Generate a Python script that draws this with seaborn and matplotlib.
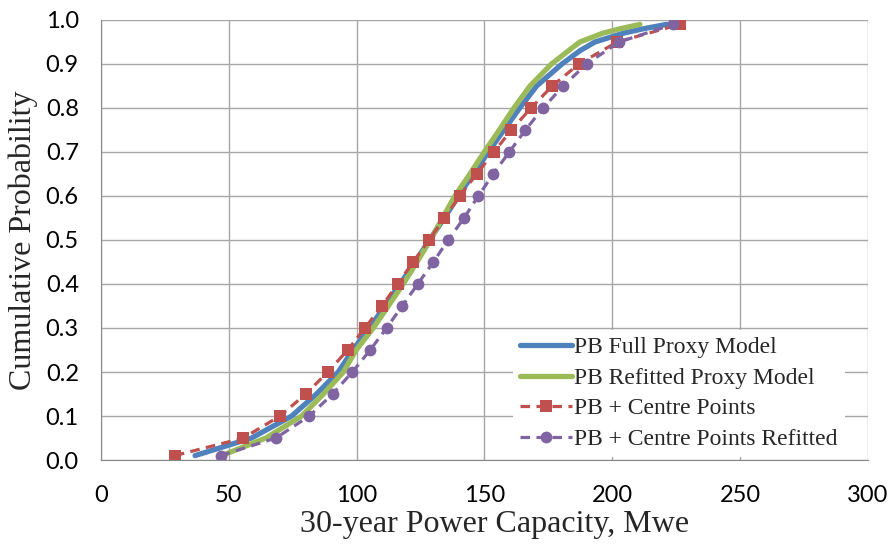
import numpy as np
import pandas as pd
import matplotlib
matplotlib.use('Agg')
import matplotlib.pyplot as plt
import seaborn as sns

# cumulative probability levels of the sampled points
prob_pts = [0.01, 0.05, 0.10, 0.15, 0.20, 0.25, 0.30, 0.35, 0.40, 0.45, 0.50,
            0.55, 0.60, 0.65, 0.70, 0.75, 0.80, 0.85, 0.90, 0.95, 0.99]
centre_x = [28.9, 55.7, 70.0, 80.1, 88.7, 96.5, 103.2, 109.9, 116.0, 122.1, 128.3,
            134.3, 140.4, 146.9, 153.7, 160.5, 168.2, 176.5, 186.9, 201.9, 226.4]
centre_refit_x = [46.8, 68.4, 81.5, 90.6, 98.3, 105.3, 111.7, 117.8, 123.9, 130.0, 135.8,
                  142.0, 147.6, 153.4, 159.7, 166.0, 172.9, 180.8, 189.9, 202.7, 223.8]

# proxy model curves
prob_curve = [0.01, 0.05, 0.10, 0.15, 0.20, 0.25, 0.30, 0.35, 0.40, 0.45, 0.50,
              0.55, 0.60, 0.65, 0.70, 0.75, 0.80, 0.85, 0.90, 0.93, 0.95, 0.97,
              0.98, 0.99]
full_x = [36.8, 58.9, 74.6, 84.3, 92.8, 98.5, 105.0, 111.0, 117.0, 122.8, 128.5,
          134.3, 139.8, 145.6, 151.5, 157.6, 163.8, 170.4, 180.3, 187.3, 193.2, 204.3,
          212.1, 221.2]
refit_x = [47.2, 64.5, 78.5, 87.0, 94.8, 99.8, 106.5, 112.4, 118.2, 123.6, 128.8,
           133.6, 138.4, 144.3, 149.9, 155.8, 161.5, 167.8, 176.2, 182.8, 187.3, 196.3,
           203.0, 210.8]

labels = ['PB Full Proxy Model', 'PB Refitted Proxy Model',
          'PB + Centre Points', 'PB + Centre Points Refitted']
colors = ['#4F81BD', '#9BBB59', '#C0504D', '#8064A2']

sns.set_style('white')
serif = ['Liberation Serif', 'DejaVu Serif']

fig = plt.figure(figsize=(8.93, 5.46), dpi=100)
ax = fig.add_axes([0.1131, 0.1575, 0.8589, 0.8059])

sns.lineplot(x=full_x, y=prob_curve, ax=ax, color=colors[0], linewidth=3.8,
             estimator=None, sort=False, label=labels[0], solid_capstyle='round')
sns.lineplot(x=refit_x, y=prob_curve, ax=ax, color=colors[1], linewidth=3.8,
             estimator=None, sort=False, label=labels[1], solid_capstyle='round')
sns.lineplot(x=centre_x, y=prob_pts, ax=ax, color=colors[2], linewidth=2.3,
             linestyle=(0, (3, 2)), marker='s', markersize=8, markeredgewidth=0,
             estimator=None, sort=False, label=labels[2])
sns.lineplot(x=centre_refit_x, y=prob_pts, ax=ax, color=colors[3], linewidth=2.3,
             linestyle=(0, (3, 2)), marker='o', markersize=8.5, markeredgewidth=0,
             estimator=None, sort=False, label=labels[3])

ax.set_xlim(0, 300)
ax.set_ylim(0, 1.0)
ax.set_xticks(np.arange(0, 301, 50))
ax.set_yticks(np.arange(0, 1.01, 0.1))
ax.set_yticklabels([f'{v:.1f}' for v in np.arange(0, 1.01, 0.1)])
ax.grid(True, color='#A6A6A6', linewidth=1.0)
ax.set_axisbelow(True)
for side in ['top', 'right']:
    ax.spines[side].set_visible(False)
for side in ['left', 'bottom']:
    ax.spines[side].set_color('#888888')
ax.tick_params(axis='both', which='major', length=5, width=1, color='#888888',
               direction='out', labelsize=17, labelcolor='black')
ax.tick_params(axis='y', pad=11)
ax.tick_params(axis='x', pad=13)
for lbl in ax.get_xticklabels() + ax.get_yticklabels():
    lbl.set_fontfamily(['Lato', 'DejaVu Sans'])

ax.set_xlabel('30-year Power Capacity, Mwe', fontsize=23, family=serif)
ax.xaxis.set_label_coords(0.513, -0.114)
ax.set_ylabel('Cumulative Probability', fontsize=23, family=serif)
ax.yaxis.set_label_coords(-0.082, 0.5)

leg = ax.legend(loc='lower right', bbox_to_anchor=(0.985, -0.02),
                prop={'family': serif, 'size': 17},
                frameon=True, facecolor='white', edgecolor='none', framealpha=1,
                fancybox=False, handlelength=2.2, handletextpad=0.1,
                labelspacing=0.38, borderpad=0.3)

fig.savefig('out.png', dpi=100)
